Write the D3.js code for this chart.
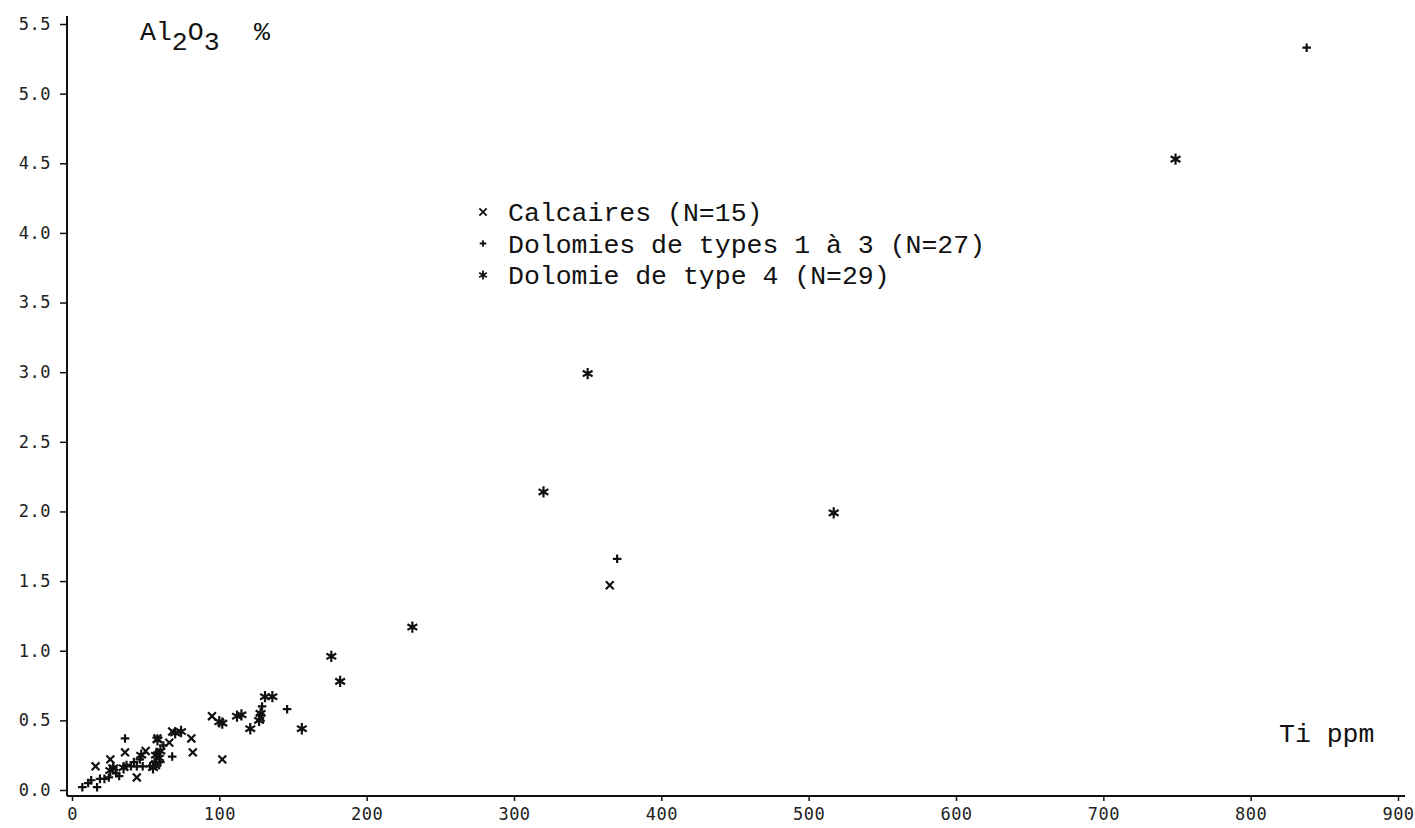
<!DOCTYPE html>
<html>
<head>
<meta charset="utf-8">
<script src="https://cdn.jsdelivr.net/npm/d3@7"></script>
<style>
  body { margin: 0; background: #fff; }
  .tick text { font-family: "DejaVu Sans Mono", monospace; font-size: 17px; fill: #222; letter-spacing: 0.5px; }
  .tick line { stroke: #111; stroke-width: 1.5; }
  .lbl { font-family: "Liberation Mono", monospace; font-size: 26.5px; fill: #111; }
</style>
</head>
<body>
<svg id="chart" width="1415" height="828"></svg>
<script>
// tick values
var xTicks = [0, 100, 200, 300, 400, 500, 600, 700, 800, 900];
var yTicks = [0, 0.5, 1, 1.5, 2, 2.5, 3, 3.5, 4, 4.5, 5, 5.5];

// Calcaires (x) : [Ti ppm, Al2O3 %]
var calcaires = [
  [16, 0.17], [26, 0.22], [36, 0.27], [44, 0.09], [50, 0.28],
  [58, 0.37], [66, 0.34], [68, 0.42], [81, 0.37], [82, 0.27],
  [95, 0.53], [102, 0.22], [128, 0.52], [57, 0.18], [365, 1.47]
];

// Dolomies de types 1 a 3 (+)
var dolomies13 = [
  [838, 5.33], [370, 1.66], [146, 0.58], [129, 0.60], [7, 0.02],
  [13, 0.07], [17, 0.02], [19, 0.08], [22, 0.08], [30, 0.12],
  [36, 0.37], [37, 0.18], [40, 0.17], [44, 0.17], [48, 0.17],
  [68, 0.24], [28, 0.16], [58, 0.27], [46, 0.22], [56, 0.20],
  [60, 0.20], [32, 0.10], [11, 0.05], [25, 0.09], [53, 0.17],
  [42, 0.20], [62, 0.32]
];

// Dolomie de type 4 (*)
var dolomie4 = [
  [749, 4.53], [350, 2.99], [320, 2.14], [517, 1.99], [231, 1.17],
  [176, 0.96], [182, 0.78], [156, 0.44], [131, 0.67], [136, 0.67],
  [128, 0.55], [121, 0.44], [112, 0.53], [115, 0.54], [102, 0.48],
  [74, 0.42], [58, 0.36], [57, 0.25], [57, 0.19], [47, 0.25],
  [28, 0.16], [59, 0.23], [55, 0.16], [100, 0.49], [70, 0.41],
  [26, 0.14], [60, 0.28], [127, 0.50], [35, 0.16]
];

var legendItems = [
  {label: "Calcaires (N=15)", sym: d3.symbolTimes, size: 36},
  {label: "Dolomies de types 1 à 3 (N=27)", sym: d3.symbolPlus, size: 16},
  {label: "Dolomie de type 4 (N=29)", sym: d3.symbolAsterisk, size: 55}
];

var svg = d3.select("#chart");

var x = d3.scaleLinear().domain([0, 900]).range([72, 1398]);
var y = d3.scaleLinear().domain([0, 5.5]).range([790, 24]);

var axisX = 67, axisY = 796;

// y axis
var gy = svg.append("g")
  .attr("transform", "translate(" + axisX + ",0)")
  .call(d3.axisLeft(y).tickValues(yTicks).tickSize(7).tickPadding(9)
    .tickFormat(d3.format(".1f")));
gy.select(".domain").remove();
svg.append("line")
  .attr("x1", axisX).attr("x2", axisX)
  .attr("y1", 16).attr("y2", axisY)
  .attr("stroke", "#111").attr("stroke-width", 2);

// x axis
var gx = svg.append("g")
  .attr("transform", "translate(0," + axisY + ")")
  .call(d3.axisBottom(x).tickValues(xTicks).tickSize(5).tickPadding(7));
gx.select(".domain").remove();
svg.append("line")
  .attr("x1", axisX).attr("x2", 1405)
  .attr("y1", axisY).attr("y2", axisY)
  .attr("stroke", "#111").attr("stroke-width", 2.2);

// axis titles
var t = svg.append("text").attr("class", "lbl").attr("x", 140).attr("y", 40);
t.append("tspan").text("Al");
t.append("tspan").attr("dy", 10).text("2");
t.append("tspan").attr("dy", -10).text("O");
t.append("tspan").attr("dy", 10).text("3");
t.append("tspan").attr("dy", -10).attr("x", 254).text("%");

svg.append("text").attr("class", "lbl")
  .attr("x", 1279).attr("y", 742)
  .text("Ti ppm");

//Draw the three groups of points
function drawPoints(data, sym, size){
  svg.append("g").selectAll("path")
    .data(data)
    .enter()
    .append("path")
    .attr("transform", function(d){ return "translate(" + x(d[0]) + "," + y(d[1]) + ")"; })
    .attr("d", d3.symbol(sym, size))
    .attr("fill", "none")
    .attr("stroke", "#111")
    .attr("stroke-width", 2.2);
}
drawPoints(calcaires, d3.symbolTimes, 42);
drawPoints(dolomies13, d3.symbolPlus, 26);
drawPoints(dolomie4, d3.symbolAsterisk, 90);

// legend
var lg = svg.append("g").attr("transform", "translate(483,212)");
lg.selectAll("path")
  .data(legendItems)
  .enter()
  .append("path")
  .attr("transform", function(d, i){ return "translate(0," + (i * 31.5) + ")"; })
  .attr("d", function(d){ return d3.symbol(d.sym, d.size)(); })
  .attr("fill", "none")
  .attr("stroke", "#111")
  .attr("stroke-width", 1.8);
lg.selectAll("text")
  .data(legendItems)
  .enter()
  .append("text")
  .attr("class", "lbl")
  .attr("x", 25)
  .attr("y", function(d, i){ return i * 31.5 + 9; })
  .text(function(d){ return d.label; });
</script>
</body>
</html>
